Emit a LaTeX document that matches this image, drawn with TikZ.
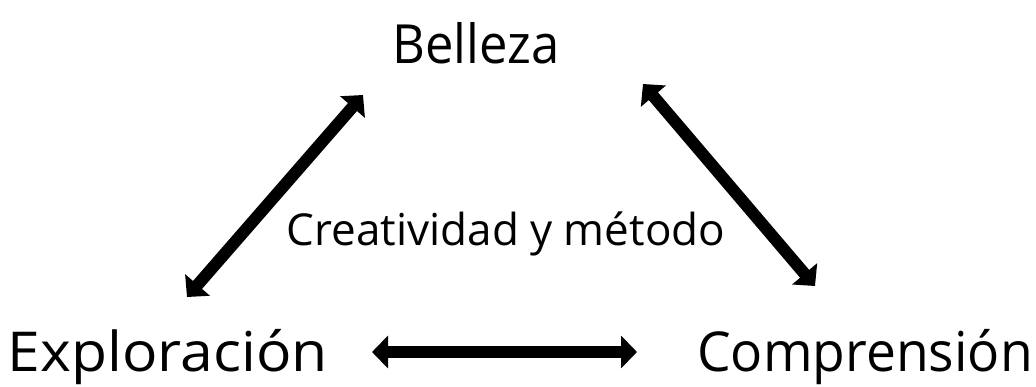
\documentclass[tikz,border=0pt]{standalone}
\usepackage{fontspec}
\setmainfont{Open Sans}
\usetikzlibrary{arrows.meta}
\begin{document}
\begin{tikzpicture}[x=1pt,y=-1pt,
  lbl/.style={inner sep=0pt,anchor=base},
  dbl/.style={line width=12pt,{Triangle[width=32pt,length=16pt]}-{Triangle[width=32pt,length=16pt]}}]
\useasboundingbox (0,0) rectangle (1036,386);
\node[lbl,font=\fontsize{54}{58}\selectfont] (bel) at (476,63) {\scalebox{0.94}[1]{Belleza}};
\node[lbl,font=\fontsize{55}{60}\selectfont] (exp) at (168,371) {\scalebox{1.07}[1]{Exploración}};
\node[lbl,font=\fontsize{55}{60}\selectfont] (com) at (865,371) {\scalebox{0.97}[1]{Comprensión}};
\node[lbl,font=\fontsize{44}{48}\selectfont] (cre) at (506,245) {Creatividad y método};
\coordinate (a1) at (363,95);
\coordinate (a2) at (187,297);
\coordinate (b1) at (643,84);
\coordinate (b2) at (815,286);
\coordinate (c1) at (372,352);
\coordinate (c2) at (637,352);
\draw[dbl] (a2) -- (a1);
\draw[dbl] (b1) -- (b2);
\draw[dbl] (c1) -- (c2);
\end{tikzpicture}
\end{document}
